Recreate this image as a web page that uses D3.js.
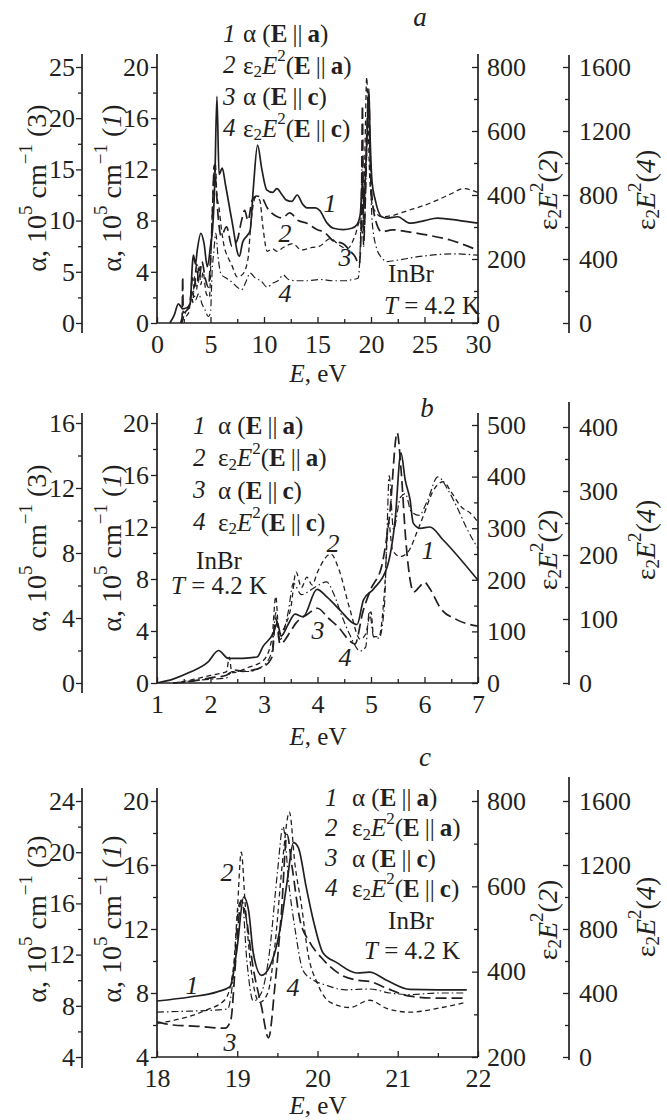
<!DOCTYPE html>
<html><head><meta charset="utf-8">
<script src="https://cdn.jsdelivr.net/npm/d3@7"></script>
<style>
body{margin:0;background:#fff}
svg text{font-family:"Liberation Serif","Times New Roman",serif;fill:#231f20}
</style>
</head><body>
<svg id="c" width="667" height="1120"></svg>
<script>
// ---------------- DATA ----------------
// Panel a: E (eV) vs values in each curve's own axis units
const a_curve1 = [[1.2,0],[1.6,0.6],[2.0,1.5],[2.2,1.3],[2.4,1.1],[2.8,1.2],[3.1,1.5],[3.3,4.5],[3.4,5.3],[3.6,4.6],[3.75,5.6],[4.1,7.0],[4.4,6.2],[4.7,4.4],[5.0,6.0],[5.2,7.4],[5.4,11],[5.6,17.7],[5.8,11.6],[6.1,12.1],[6.4,10.8],[7.0,8.0],[7.7,5.2],[8.0,6.3],[8.4,6.8],[8.7,7.2],[9.0,10.5],[9.4,13.9],[9.8,12.0],[10.25,10.4],[10.8,10.2],[11.2,10.5],[11.7,10.0],[12.1,9.6],[12.6,9.5],[13.1,10.0],[13.6,9.3],[14.0,9.0],[14.8,9.0],[15.2,8.8],[15.9,7.8],[16.5,7.4],[17.4,7.3],[18.2,7.4],[18.7,7.7],[19.0,8.5],[19.2,11],[19.35,9],[19.5,12],[19.7,16],[19.8,18.3],[19.9,15],[20.1,11],[20.4,9.6],[21.0,8.3],[21.5,8.2],[22.5,8.3],[23.6,7.8],[25,8.0],[26.2,8.2],[28.3,8.0],[30,7.8]];
const a_curve2 = [[2.3,0],[2.5,16],[2.8,24],[3.0,36],[3.2,100],[3.35,64],[3.5,144],[3.7,104],[3.9,180],[4.1,120],[4.3,160],[4.6,92],[4.9,80],[5.1,280],[5.3,460],[5.45,500],[5.6,400],[5.8,360],[6.0,300],[6.3,236],[6.6,208],[7.0,180],[7.5,144],[8.0,152],[8.5,200],[8.8,320],[9.2,392],[9.6,384],[9.9,300],[10.3,224],[10.8,232],[11.2,224],[11.8,236],[12.7,248],[13.5,228],[14.5,236],[15.2,240],[16.2,264],[17.0,244],[17.8,232],[18.5,272],[19.0,320],[19.2,280],[19.4,480],[19.6,768],[19.75,600],[19.9,440],[20.2,360],[21.0,332],[22.0,336],[23.5,352],[25.0,368],[26.2,384],[27.5,404],[28.6,420],[30,408]];
const a_curve3 = [[2.2,0],[2.35,0.6],[2.4,4.5],[2.45,1.0],[2.8,1.25],[3.1,1.75],[3.3,4.4],[3.5,3.5],[3.7,5.75],[3.9,4.0],[4.2,6.0],[4.5,4.4],[4.8,3.5],[5.0,6.25],[5.2,11.25],[5.35,15.4],[5.5,13.75],[5.7,10.6],[6.0,8.5],[6.5,9.4],[7.0,7.5],[7.5,8.1],[7.9,10.0],[8.2,11.0],[8.5,10.0],[8.9,12.0],[9.3,12.4],[9.8,12.25],[10.3,11.25],[11.2,10.4],[11.7,10.25],[12.4,10.75],[13.2,10.0],[14.0,9.75],[15.0,9.1],[15.6,8.9],[16.5,8.0],[17.4,7.75],[18.0,7.1],[18.5,6.5],[18.9,5.75],[19.1,10],[19.2,21.25],[19.3,7.5],[19.45,11.25],[19.65,20],[19.8,22.25],[19.95,15],[20.3,10.6],[21.0,8.9],[22.0,9.1],[23.5,8.9],[25.2,8.6],[27.4,8.1],[30,7.1]];
const a_curve4 = [[2.3,0],[2.5,40],[2.8,80],[3.1,128],[3.4,200],[3.6,144],[3.9,184],[4.2,120],[4.5,80],[4.8,40],[5.0,64],[5.15,320],[5.3,440],[5.5,560],[5.7,416],[6.0,304],[6.5,280],[7.0,256],[7.5,224],[7.9,208],[8.3,256],[8.7,312],[9.2,280],[9.7,264],[10.3,224],[10.8,248],[11.3,264],[11.8,300],[12.3,272],[13.0,264],[14.0,264],[15.2,272],[16.5,264],[17.5,264],[18.3,272],[18.8,280],[19.0,480],[19.2,1040],[19.35,560],[19.55,960],[19.75,1320],[19.9,1040],[20.1,640],[20.5,472],[21.0,408],[21.5,384],[22.4,392],[24.6,416],[27.7,432],[30,424]];

// Panel b
const b_curve1 = [[1.0,0],[1.3,0.3],[1.6,0.8],[1.95,1.6],[2.15,2.5],[2.33,1.9],[2.6,1.9],[2.87,2.0],[2.98,2.8],[3.17,3.8],[3.25,4.6],[3.32,3.6],[3.45,4.5],[3.58,5.3],[3.73,5.1],[3.99,7.2],[4.18,6.6],[4.42,5.6],[4.67,4.6],[4.74,4.5],[4.86,6.4],[5.04,7.2],[5.3,8.9],[5.45,12.5],[5.56,17.7],[5.64,15.6],[5.73,14.1],[5.79,12.3],[5.92,11.9],[6.1,12.0],[6.35,11.0],[7.0,7.9]];
const b_curve2 = [[1.3,0],[1.6,5],[2.0,15],[2.3,22],[2.35,50],[2.4,20],[2.7,30],[3.0,45],[3.15,88],[3.22,168],[3.28,95],[3.4,112],[3.5,145],[3.6,215],[3.7,185],[3.8,205],[3.9,190],[4.0,215],[4.25,250],[4.4,220],[4.6,145],[4.8,85],[4.9,95],[5.0,138],[5.05,90],[5.15,90],[5.25,175],[5.33,312],[5.4,258],[5.55,245],[5.7,255],[5.85,290],[6.0,330],[6.15,370],[6.35,390],[6.5,370],[6.7,340],[6.85,330],[7.0,312]];
const b_curve3 = [[1.3,0],[1.6,0.08],[2.0,0.32],[2.3,0.48],[2.45,0.8],[2.6,0.72],[3.0,1.04],[3.15,1.6],[3.22,4.0],[3.3,2.4],[3.5,3.2],[3.6,3.7],[3.8,4.2],[4.0,4.6],[4.2,4.0],[4.4,3.4],[4.6,2.6],[4.7,2.4],[4.85,4.4],[5.0,5.8],[5.2,7.2],[5.35,10.4],[5.49,15.4],[5.56,13.2],[5.65,8.8],[5.75,6.0],[5.8,5.6],[5.9,5.9],[6.0,6.2],[6.1,5.8],[6.3,4.6],[6.6,3.9],[7.0,3.5]];
const b_curve4 = [[1.3,0],[2.0,6],[2.3,8],[2.4,18],[2.7,18],[3.0,28],[3.15,50],[3.22,110],[3.3,68],[3.45,110],[3.55,156],[3.7,138],[3.85,144],[4.0,152],[4.17,158],[4.3,140],[4.45,106],[4.6,76],[4.8,50],[4.9,56],[4.97,112],[5.05,72],[5.15,70],[5.25,120],[5.3,240],[5.34,324],[5.42,240],[5.55,290],[5.64,296],[5.75,268],[5.9,262],[6.05,284],[6.25,322],[6.45,300],[6.6,276],[6.8,240],[7.0,210]];

// Panel c
const c_curve1 = [[18,7.5],[18.41,7.75],[18.75,8.07],[18.91,8.4],[19.0,10.9],[19.08,14.0],[19.14,13.2],[19.2,10.5],[19.3,9.1],[19.4,9.6],[19.53,11.9],[19.62,14.9],[19.7,17.4],[19.76,17.1],[19.86,14.6],[19.95,12.5],[20.07,10.5],[20.24,9.9],[20.49,9.25],[20.65,9.3],[20.86,8.8],[21.15,8.23],[21.5,8.2],[21.86,8.2]];
const c_curve2 = [[18,279],[18.3,290],[18.6,309],[18.85,335],[18.95,406],[19.0,538],[19.05,680],[19.1,556],[19.18,395],[19.28,328],[19.38,350],[19.47,462],[19.56,650],[19.65,774],[19.72,650],[19.8,556],[19.88,444],[20.0,372],[20.16,328],[20.4,316],[20.65,333],[20.86,314],[21.15,305],[21.55,316],[21.85,328]];
const c_curve3 = [[18,6.75],[18.2,6.5],[18.5,6.4],[18.85,6.25],[18.92,6.9],[18.98,11.5],[19.05,16.25],[19.1,15.25],[19.2,10.9],[19.3,8.0],[19.39,5.5],[19.47,9.6],[19.55,15.25],[19.62,21.4],[19.68,19],[19.78,14.75],[19.9,13],[20.05,11.75],[20.3,10.4],[20.5,10],[20.65,9.9],[20.85,9.4],[21.15,8.75],[21.5,8.6],[21.85,8.6]];
const c_curve4 = [[18,280],[18.3,285],[18.6,290],[18.88,300],[18.95,500],[19.02,950],[19.06,980],[19.12,600],[19.2,350],[19.3,400],[19.4,650],[19.5,1150],[19.57,1440],[19.65,1050],[19.72,800],[19.82,540],[19.95,480],[20.1,450],[20.35,420],[20.65,425],[20.9,400],[21.15,390],[21.5,400],[21.85,400]];

// Ticks
const a_xMajor = [0,5,10,15,20,25,30], a_xMinor = [2.5,7.5,12.5,17.5,22.5,27.5];
const a_y1Major = [0,4,8,12,16,20], a_y1Minor = [2,6,10,14,18];
const a_y3Major = [0,5,10,15,20,25], a_y3Minor = [2.5,7.5,12.5,17.5,22.5];
const a_y2Major = [0,200,400,600,800], a_y2Minor = [100,300,500,700];
const a_y4Major = [0,400,800,1200,1600], a_y4Minor = [200,600,1000,1400];

const b_xMajor = [1,2,3,4,5,6,7], b_xMinor = [1.5,2.5,3.5,4.5,5.5,6.5];
const b_y1Major = [0,4,8,12,16,20], b_y1Minor = [2,6,10,14,18];
const b_y3Major = [0,4,8,12,16], b_y3Minor = [2,6,10,14];
const b_y2Major = [0,100,200,300,400,500], b_y2Minor = [50,150,250,350,450];
const b_y4Major = [0,100,200,300,400], b_y4Minor = [50,150,250,350];

const c_xMajor = [18,19,20,21,22], c_xMinor = [18.5,19.5,20.5,21.5];
const c_y1Major = [4,8,12,16,20], c_y1Minor = [6,10,14,18];
const c_y3Major = [4,8,12,16,20,24], c_y3Minor = [6,10,14,18,22];
const c_y2Major = [200,400,600,800], c_y2Minor = [300,500,700];
const c_y4Major = [0,400,800,1200,1600], c_y4Minor = [200,600,1000,1400];

const legendNums = ["1","2","3","4"];
const panelLetters = ["a","b","c"];

// ---------------- DRAWING ----------------
const svg = d3.select("#c");
const INK = "#231f20";
const SERIF = "'Liberation Serif','Times New Roman',serif";

function rich(sel, parts, fs){
  let off = 0;
  parts.forEach(p=>{
    const ts = sel.append("tspan").text(p.t);
    let target = 0, size = fs;
    if(p.sub){target = 0.25*fs; size = fs*0.68;}
    if(p.sup){target = -0.38*fs; size = fs*0.68;}
    ts.attr("dy", target-off).attr("font-size", size);
    off = target;
    if(p.it) ts.attr("font-style","italic");
    if(p.b) ts.attr("font-weight","bold");
  });
}
const TS = "\u2009";
const legParts = [
  [{t:"α ("},{t:"E",b:1},{t:TS+"||"+TS},{t:"a",b:1},{t:")"}],
  [{t:"ε"},{t:"2",sub:1},{t:"E",it:1},{t:"2",sup:1},{t:"("},{t:"E",b:1},{t:TS+"||"+TS},{t:"a",b:1},{t:")"}],
  [{t:"α ("},{t:"E",b:1},{t:TS+"||"+TS},{t:"c",b:1},{t:")"}],
  [{t:"ε"},{t:"2",sub:1},{t:"E",it:1},{t:"2",sup:1},{t:"("},{t:"E",b:1},{t:TS+"||"+TS},{t:"c",b:1},{t:")"}]
];
const styles = [
  {dash:null, w:1.7},
  {dash:"5,3.5", w:1.3},
  {dash:"11,5", w:1.7},
  {dash:"7,3,1.5,3", w:1.2}
];

function vAxis(g, scale, major, minor, x, kind, pad, lineY){
  const gg = g.append("g").attr("transform",`translate(${x},0)`);
  gg.append("line").attr("x1",0).attr("x2",0).attr("y1",lineY[0]).attr("y2",lineY[1])
    .attr("stroke",INK).attr("stroke-width",1.7);
  let axMaj, axMin;
  if(kind==="left"){
    axMaj = d3.axisLeft(scale).tickValues(major).tickSize(6).tickPadding(pad).tickFormat(d3.format("d"));
    axMin = d3.axisLeft(scale).tickValues(minor).tickSize(4).tickFormat("");
  } else {
    axMaj = d3.axisRight(scale).tickValues(major).tickSize(-6).tickPadding(pad).tickFormat(d3.format("d"));
    axMin = d3.axisRight(scale).tickValues(minor).tickSize(-4).tickFormat("");
  }
  [axMaj, axMin].forEach(ax=>{
    const s = gg.append("g").call(ax);
    s.select(".domain").remove();
    s.selectAll("line").attr("stroke",INK).attr("stroke-width",1.3);
    s.selectAll("text").attr("font-size",26).attr("font-family",SERIF).attr("fill",INK);
    s.attr("font-family",null).attr("font-size",null);
  });
}

function rotTitle(g, x, y, parts, fs){
  const t = g.append("text").attr("transform",`translate(${x},${y}) rotate(-90)`)
    .attr("text-anchor","middle").attr("dominant-baseline","central").attr("font-size",fs);
  rich(t, parts, fs);
}

function drawPanel(p){
  const g = svg.append("g");
  const x = d3.scaleLinear().domain(p.xDom).range([157,478]);
  const y1 = d3.scaleLinear().domain(p.y1Dom).range(p.y1R);
  const y2 = d3.scaleLinear().domain(p.y2Dom).range(p.y2R);
  const y3 = d3.scaleLinear().domain(p.y3Dom).range(p.y3R);
  const y4 = d3.scaleLinear().domain(p.y4Dom).range(p.y4R);
  const bottom = p.y1R[0];

  const scales = [y1,y2,y3,y4];
  [3,2,1,0].forEach(i=>{
    const line = d3.line().x(d=>x(d[0])).y(d=>scales[i](d[1])).curve(d3.curveMonotoneX);
    g.append("path").datum(p.data[i]).attr("d",line).attr("fill","none")
      .attr("stroke",INK).attr("stroke-width",styles[i].w)
      .attr("stroke-dasharray",styles[i].dash).attr("stroke-linejoin","round");
  });

  const gx = g.append("g").attr("transform",`translate(0,${bottom})`);
  gx.append("line").attr("x1",157).attr("x2",478).attr("stroke",INK).attr("stroke-width",1.7);
  [[p.xMajor,-6,d3.format("d")],[p.xMinor,-4,""]].forEach(([vals,ts,fmt])=>{
    const s = gx.append("g").call(d3.axisBottom(x).tickValues(vals).tickSize(ts).tickPadding(12).tickFormat(fmt));
    s.select(".domain").remove();
    s.selectAll("line").attr("stroke",INK).attr("stroke-width",1.3);
    s.selectAll("text").attr("font-size",26).attr("font-family",SERIF).attr("fill",INK);
    s.attr("font-family",null).attr("font-size",null);
  });
  g.append("text").attr("x",318).attr("y",p.xTitleY).attr("text-anchor","middle")
    .attr("dominant-baseline","central").attr("font-size",25)
    .call(t=>rich(t,[{t:"E",it:1},{t:", eV"}],25));

  vAxis(g, y1, p.y1Major, p.y1Minor, 157, "left", 2, p.l1);
  vAxis(g, y3, p.y3Major, p.y3Minor, 82, "left", 1, p.l3);
  vAxis(g, y2, p.y2Major, p.y2Minor, 478, "right", 9, p.l2);
  vAxis(g, y4, p.y4Major, p.y4Minor, 569, "right", 10, p.l4);

  rotTitle(g, 36, p.tY[0], [{t:"α, 10"},{t:"5",sup:1},{t:" cm"},{t:"−1",sup:1},{t:" (3)"}], 28);
  rotTitle(g, 111, p.tY[1], [{t:"α, 10"},{t:"5",sup:1},{t:" cm"},{t:"−1",sup:1},{t:" ("},{t:"1",it:1},{t:")"}], 28);
  rotTitle(g, 547, p.tY[2], [{t:"ε"},{t:"2",sub:1},{t:"E",it:1},{t:"2",sup:1},{t:"("},{t:"2",it:1},{t:")"}], 28);
  rotTitle(g, 645, p.tY[3], [{t:"ε"},{t:"2",sub:1},{t:"E",it:1},{t:"2",sup:1},{t:"("},{t:"4",it:1},{t:")"}], 28);

  legendNums.forEach((n,i)=>{
    const yy = p.legY + i*p.legDy;
    g.append("text").attr("x",p.legNumX).attr("y",yy).attr("dominant-baseline","central")
      .attr("font-size",25).attr("font-style","italic").text(n);
    const t = g.append("text").attr("x",p.legTxtX).attr("y",yy).attr("dominant-baseline","central").attr("font-size",25);
    rich(t, legParts[i], 25);
  });
  g.append("text").attr("x",p.inbr[0]).attr("y",p.inbr[1]).attr("text-anchor","middle")
    .attr("dominant-baseline","central").attr("font-size",25).text("InBr");
  g.append("text").attr("x",p.temp[0]).attr("y",p.temp[1]).attr("text-anchor","middle")
    .attr("dominant-baseline","central").attr("font-size",25)
    .call(t=>rich(t,[{t:"T",it:1},{t:" = 4.2 K"}],25));
  p.curveLabels.forEach((c,i)=>{
    g.append("text").attr("x",c[0]).attr("y",c[1]).attr("text-anchor","middle")
      .attr("dominant-baseline","central").attr("font-size",26).attr("font-style","italic").text(legendNums[i]);
  });
  g.append("text").attr("x",p.letter[0]).attr("y",p.letter[1]).attr("text-anchor","middle")
    .attr("dominant-baseline","central").attr("font-size",27).attr("font-style","italic").text(p.letterText);
}

drawPanel({
  xDom:[0,30], xMajor:a_xMajor, xMinor:a_xMinor, xTitleY:373,
  y1Dom:[0,20], y1R:[323,67], y1Major:a_y1Major, y1Minor:a_y1Minor, l1:[54,323],
  y3Dom:[0,25], y3R:[323,67], y3Major:a_y3Major, y3Minor:a_y3Minor, l3:[54,333],
  y2Dom:[0,800], y2R:[323,67], y2Major:a_y2Major, y2Minor:a_y2Minor, l2:[54,323],
  y4Dom:[0,1600], y4R:[323,67], y4Major:a_y4Major, y4Minor:a_y4Minor, l4:[55,333],
  data:[a_curve1,a_curve2,a_curve3,a_curve4],
  tY:[188,188,190,190],
  legY:33, legDy:31.5, legNumX:223, legTxtX:243,
  inbr:[411,273], temp:[432,305],
  curveLabels:[[330,203],[285,233],[345,257],[285,293]],
  letter:[420,17], letterText:panelLetters[0]
});
drawPanel({
  xDom:[1,7], xMajor:b_xMajor, xMinor:b_xMinor, xTitleY:736,
  y1Dom:[0,20], y1R:[683,423], y1Major:b_y1Major, y1Minor:b_y1Minor, l1:[413,683],
  y3Dom:[0,16], y3R:[683,423], y3Major:b_y3Major, y3Minor:b_y3Minor, l3:[413,693],
  y2Dom:[0,500], y2R:[683,425], y2Major:b_y2Major, y2Minor:b_y2Minor, l2:[413,683],
  y4Dom:[0,400], y4R:[683,427], y4Major:b_y4Major, y4Minor:b_y4Minor, l4:[402,685],
  data:[b_curve1,b_curve2,b_curve3,b_curve4],
  tY:[548,548,550,540],
  legY:425, legDy:32.3, legNumX:193, legTxtX:218,
  inbr:[219,560], temp:[219,585],
  curveLabels:[[428,550],[333,543],[318,630],[345,657]],
  letter:[427,408], letterText:panelLetters[1]
});
drawPanel({
  xDom:[18,22], xMajor:c_xMajor, xMinor:c_xMinor, xTitleY:1105,
  y1Dom:[4,20], y1R:[1057,801], y1Major:c_y1Major, y1Minor:c_y1Minor, l1:[788,1057],
  y3Dom:[4,24], y3R:[1057,801], y3Major:c_y3Major, y3Minor:c_y3Minor, l3:[788,1068],
  y2Dom:[200,800], y2R:[1057,801], y2Major:c_y2Major, y2Minor:c_y2Minor, l2:[790,1057],
  y4Dom:[0,1600], y4R:[1057,801], y4Major:c_y4Major, y4Minor:c_y4Minor, l4:[777,1060],
  data:[c_curve1,c_curve2,c_curve3,c_curve4],
  tY:[919,919,920,917],
  legY:797, legDy:30.3, legNumX:325, legTxtX:352,
  inbr:[411,920], temp:[412,950],
  curveLabels:[[192,985],[227,872],[230,1042],[293,987]],
  letter:[425,757], letterText:panelLetters[2]
});
</script>
</body></html>
